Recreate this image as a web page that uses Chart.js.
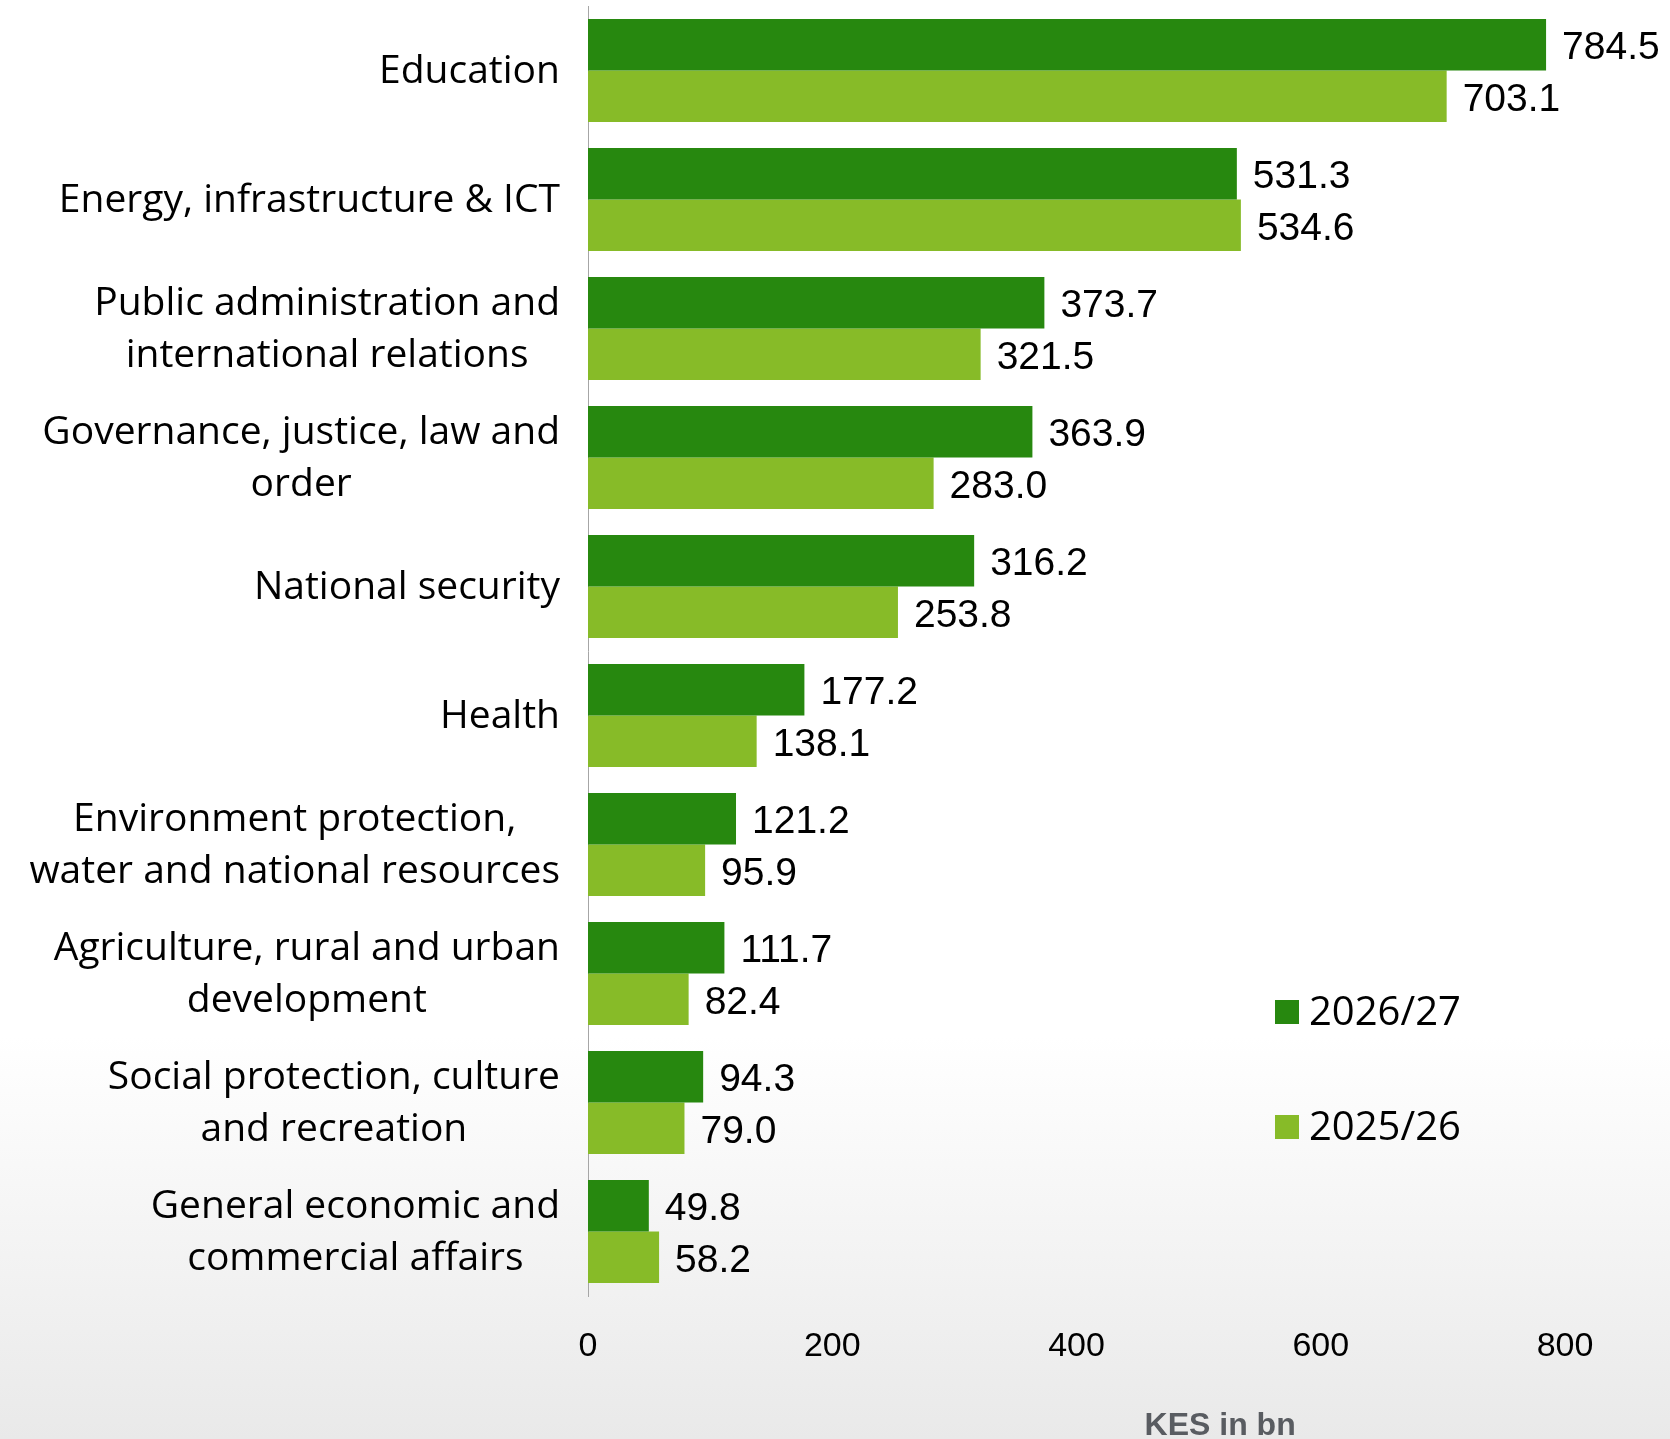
<!DOCTYPE html>
<html lang="en">
<head>
    <meta charset="UTF-8">
    <title>Budget by sector, KES bn</title>
    <script src="https://cdn.jsdelivr.net/npm/chart.js"></script>
    <style>
        html, body { margin: 0; padding: 0; background: #fff; }
        canvas { display: block; }
    </style>
</head>
<body>
    <canvas id="sectorChart" width="1670" height="1439"></canvas>

    <script>
        const sectors = [
            'Education',
            'Energy, infrastructure & ICT',
            ['Public administration and', 'international relations'],
            ['Governance, justice, law and', 'order'],
            'National security',
            'Health',
            ['Environment protection,', 'water and national resources'],
            ['Agriculture, rural and urban', 'development'],
            ['Social protection, culture', 'and recreation'],
            ['General economic and', 'commercial affairs']
        ];
        const budget2026 = [784.5, 531.3, 373.7, 363.9, 316.2, 177.2, 121.2, 111.7, 94.3, 49.8];
        const budget2025 = [703.1, 534.6, 321.5, 283.0, 253.8, 138.1, 95.9, 82.4, 79.0, 58.2];
        const xTicks = [0, 200, 400, 600, 800];

        const darkGreen = '#27880f';
        const lightGreen = '#87bb28';
        const fontFamily = '"Liberation Sans", Arial, sans-serif';
        const labelFamily = '"Open Sans", "Liberation Sans", sans-serif';

        // soft grey fade at the bottom of the page
        const background = {
            id: 'background',
            beforeDraw(chart) {
                const { ctx, width, height } = chart;
                const g = ctx.createLinearGradient(0, 0, 0, height);
                g.addColorStop(0, '#ffffff');
                g.addColorStop(0.72, '#ffffff');
                g.addColorStop(1, '#e9e9e9');
                ctx.save();
                ctx.fillStyle = g;
                ctx.fillRect(0, 0, width, height);
                ctx.restore();
            }
        };

        // category names: each block right-aligned, lines centred within it
        const sectorLabels = {
            id: 'sectorLabels',
            afterDraw(chart) {
                const { ctx } = chart;
                const y = chart.scales.y;
                ctx.save();
                ctx.font = '39px ' + labelFamily;
                ctx.fillStyle = '#000';
                ctx.textBaseline = 'middle';
                ctx.textAlign = 'center';
                const right = chart.chartArea.left - 28;
                const lineH = 52;
                sectors.forEach((lab, i) => {
                    const lines = Array.isArray(lab) ? lab : [lab];
                    const w = Math.max(...lines.map(l => ctx.measureText(l).width));
                    const cx = right - w / 2;
                    const cy = y.getPixelForTick(i) + 1;
                    lines.forEach((l, k) => {
                        ctx.fillText(l, cx, cy + (k - (lines.length - 1) / 2) * lineH);
                    });
                });
                ctx.restore();
            }
        };

        // value at the end of every bar
        const valueLabels = {
            id: 'valueLabels',
            afterDatasetsDraw(chart) {
                const { ctx } = chart;
                ctx.save();
                ctx.font = '39px ' + fontFamily;
                ctx.fillStyle = '#000';
                ctx.textBaseline = 'middle';
                ctx.textAlign = 'left';
                chart.data.datasets.forEach((ds, di) => {
                    chart.getDatasetMeta(di).data.forEach((bar, i) => {
                        ctx.fillText(ds.data[i].toFixed(1), bar.x + 16, bar.y + 4);
                    });
                });
                ctx.restore();
            }
        };

        // legend squares in the lower right, plus the unit label
        const sideLegend = {
            id: 'sideLegend',
            afterDraw(chart) {
                const { ctx, chartArea } = chart;
                ctx.save();
                ctx.textBaseline = 'middle';
                ctx.textAlign = 'left';
                ctx.font = '40px ' + labelFamily;
                const rows = [1012, 1127];
                chart.data.datasets.forEach((ds, di) => {
                    const yy = rows[di];
                    ctx.fillStyle = ds.backgroundColor;
                    ctx.fillRect(1275, yy - 12, 24, 24);
                    ctx.fillStyle = '#000';
                    ctx.fillText(ds.label, 1309, yy + 2);
                });
                ctx.font = 'bold 32px ' + fontFamily;
                ctx.fillStyle = '#595c61';
                ctx.textAlign = 'center';
                const cx = chartArea.left + (chartArea.right - chartArea.left) * 0.647;
                ctx.fillText('KES in bn', cx, 1426);
                ctx.restore();
            }
        };

        const ctx = document.getElementById('sectorChart').getContext('2d');
        new Chart(ctx, {
            type: 'bar',
            data: {
                labels: sectors,
                datasets: [
                    {
                        label: '2026/27',
                        data: budget2026,
                        backgroundColor: darkGreen,
                        borderWidth: 0,
                        categoryPercentage: 0.8,
                        barPercentage: 1.0
                    },
                    {
                        label: '2025/26',
                        data: budget2025,
                        backgroundColor: lightGreen,
                        borderWidth: 0,
                        categoryPercentage: 0.8,
                        barPercentage: 1.0
                    }
                ]
            },
            options: {
                indexAxis: 'y',
                responsive: false,
                animation: false,
                devicePixelRatio: 1,
                layout: { padding: { top: 6, right: 105, left: 0, bottom: 0 } },
                plugins: {
                    legend: { display: false },
                    tooltip: { enabled: false }
                },
                scales: {
                    x: {
                        min: 0,
                        max: 800,
                        afterBuildTicks(scale) {
                            scale.ticks = xTicks.map(v => ({ value: v }));
                        },
                        afterFit(scale) { scale.height = 143; },
                        grid: { display: false, drawTicks: false },
                        border: { display: false },
                        ticks: {
                            color: '#000',
                            padding: 30,
                            font: { family: fontFamily, size: 34 }
                        }
                    },
                    y: {
                        afterFit(scale) { scale.width = 588; },
                        grid: { display: false, drawTicks: false },
                        border: { display: true, color: '#a6a6a6', width: 1 },
                        ticks: { display: false }
                    }
                }
            },
            plugins: [background, sectorLabels, valueLabels, sideLegend]
        });
    </script>
</body>
</html>
